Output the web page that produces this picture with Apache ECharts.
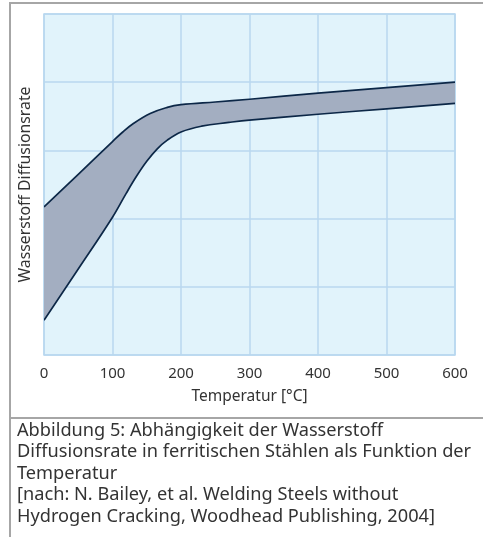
<!DOCTYPE html>
<html>
<head>
<meta charset="utf-8">
<script src="https://cdn.jsdelivr.net/npm/echarts@6/dist/echarts.min.js"></script>
<style>
  html, body { margin: 0; padding: 0; background: #fff; }
  #chart { width: 483px; height: 537px; }
</style>
</head>
<body>
<div id="chart"></div>
<script>
  // Obere Grenze: Temperatur [°C] / Diffusionsrate (relative Einheiten)
  var upperTemps = [0, 50, 100, 115, 130, 155, 180, 200, 250, 300, 400, 500, 600];
  var upperRate = [2.17, 2.65, 3.13, 3.27, 3.39, 3.54, 3.63, 3.67, 3.71, 3.75, 3.84, 3.92, 4.0];
  // Untere Grenze
  var lowerTemps = [0, 50, 100, 120, 135, 150, 165, 180, 200, 230, 270, 300, 400, 500, 600];
  var lowerRate = [0.51, 1.26, 2.02, 2.37, 2.62, 2.84, 3.02, 3.15, 3.27, 3.355, 3.41, 3.445, 3.53, 3.61, 3.69];
  var xTicks = [0, 100, 200, 300, 400, 500, 600];

  var caption = [
    'Abbildung 5: Abhängigkeit der Wasserstoff',
    'Diffusionsrate in ferritischen Stählen als Funktion der',
    'Temperatur',
    '[nach: N. Bailey, et al. Welding Steels without',
    'Hydrogen Cracking, Woodhead Publishing, 2004]'
  ];

  var lineColor = '#0c2747';
  var bandColor = '#a3aec1';
  var gridColor = '#b9d7ef';
  var font = '"Noto Sans"';
  var smooth = 0.4;

  // bezier segments through pixel points (same idea as echarts' line smoothing)
  function smoothPath(pts, moveFirst) {
    var d = (moveFirst ? 'M' : 'L') + pts[0][0] + ' ' + pts[0][1];
    var cps = pts.map(function (p, i) {
      var prev = pts[Math.max(i - 1, 0)];
      var next = pts[Math.min(i + 1, pts.length - 1)];
      var vx = next[0] - prev[0], vy = next[1] - prev[1];
      var d0 = Math.abs(p[0] - prev[0]), d1 = Math.abs(next[0] - p[0]);
      var r = (d0 + d1) ? d1 / (d0 + d1) : 0.5;
      return {
        inX: p[0] - vx * smooth * (1 - r), inY: p[1] - vy * smooth * (1 - r),
        outX: p[0] + vx * smooth * r, outY: p[1] + vy * smooth * r
      };
    });
    for (var i = 1; i < pts.length; i++) {
      d += ' C' + cps[i - 1].outX + ' ' + cps[i - 1].outY + ' ' +
        cps[i].inX + ' ' + cps[i].inY + ' ' + pts[i][0] + ' ' + pts[i][1];
    }
    return d;
  }

  function renderBand(params, api) {
    var top = upperTemps.map(function (t, i) { return api.coord([t, upperRate[i]]); });
    var bot = lowerTemps.map(function (t, i) { return api.coord([t, lowerRate[i]]); });
    var fill = smoothPath(top, true) + ' ' + smoothPath(bot.slice().reverse(), false) + ' Z';
    return {
      type: 'group',
      children: [
        { type: 'path', shape: { pathData: fill }, style: { fill: bandColor, stroke: null } },
        { type: 'path', shape: { pathData: smoothPath(top, true) },
          style: { fill: null, stroke: lineColor, lineWidth: 1.7 } },
        { type: 'path', shape: { pathData: smoothPath(bot, true) },
          style: { fill: null, stroke: lineColor, lineWidth: 1.7 } }
      ]
    };
  }

  var myChart = echarts.init(document.getElementById('chart'), null, { renderer: 'canvas' });

  var opt = {
    animation: false,
    textStyle: { fontFamily: font, color: '#333' },
    grid: {
      left: 44, right: 28, top: 14, bottom: 182,
      show: true,
      backgroundColor: '#e1f3fb',
      borderColor: gridColor,
      borderWidth: 1.5
    },
    xAxis: {
      type: 'value',
      min: 0, max: 600, interval: 100,
      axisLine: { show: false },
      axisTick: { show: false },
      axisLabel: { fontSize: 15, color: '#333', margin: 11, fontFamily: font },
      splitLine: { show: true, lineStyle: { color: gridColor, width: 1.5 } },
      name: 'Temperatur [°C]',
      nameLocation: 'middle',
      nameGap: 34,
      nameTextStyle: { fontSize: 15.5, color: '#333', fontFamily: font }
    },
    yAxis: {
      type: 'value',
      min: 0, max: 5, interval: 1,
      axisLine: { show: false },
      axisTick: { show: false },
      axisLabel: { show: false },
      splitLine: { show: true, lineStyle: { color: gridColor, width: 1.5 } },
      name: 'Wasserstoff Diffusionsrate',
      nameLocation: 'middle',
      nameGap: 11,
      nameTextStyle: { fontSize: 15.8, color: '#333', fontFamily: font }
    },
    series: [
      {
        type: 'custom',
        renderItem: renderBand,
        data: [0],
        clip: true
      }
    ],
    graphic: [
      {
        type: 'rect', z: -1,
        shape: { x: 10, y: 3, width: 480, height: 415 },
        style: { fill: 'none', stroke: '#a6a6a6', lineWidth: 2 }
      },
      {
        type: 'rect', z: -1,
        shape: { x: 10, y: 418, width: 480, height: 130 },
        style: { fill: 'none', stroke: '#a6a6a6', lineWidth: 2 }
      },
      {
        type: 'text',
        left: 17, top: 420,
        style: {
          text: caption.join('\n'),
          fontFamily: font,
          fontSize: 18.2,
          lineHeight: 21.5,
          fill: '#333'
        }
      }
    ]
  };

  myChart.setOption(opt);
  window.addEventListener('resize', function () { myChart.resize(); });
</script>
</body>
</html>
